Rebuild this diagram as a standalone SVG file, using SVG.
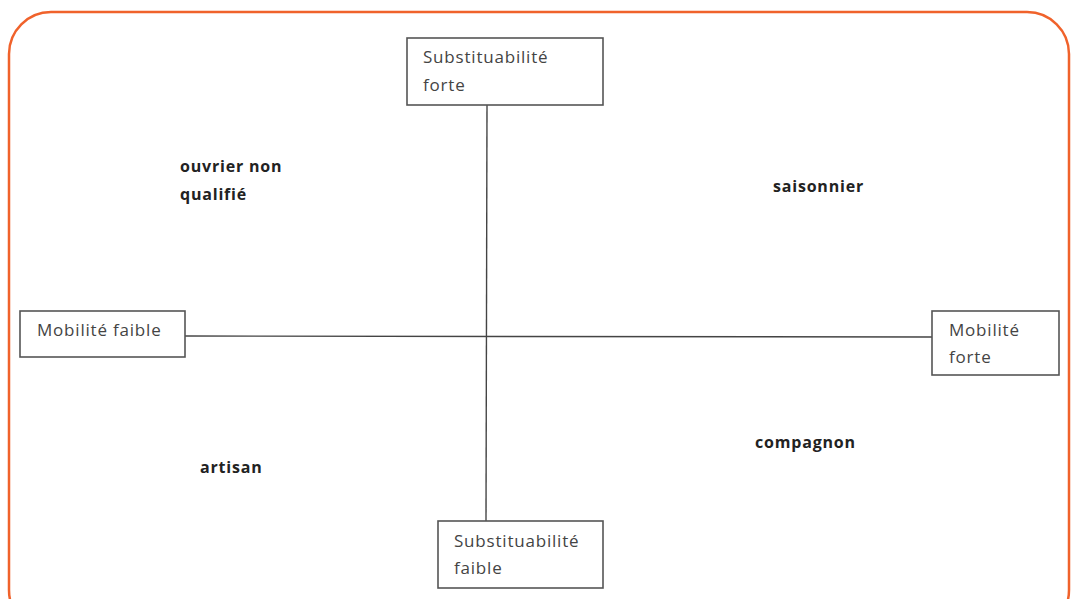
<svg xmlns="http://www.w3.org/2000/svg" width="1073" height="599" viewBox="0 0 1073 599">
<style>
.box{fill:#fff;stroke:#555;stroke-width:1.6}
.bt{font-family:"Open Sans","Liberation Sans",sans-serif;font-size:17px;letter-spacing:0.8px;fill:#444}
.lb{font-family:"Open Sans","Liberation Sans",sans-serif;font-size:16px;letter-spacing:0.8px;font-weight:bold;fill:#222}
.ax{stroke:#444;stroke-width:1.4;fill:none}
</style>
<rect x="0" y="0" width="1073" height="599" fill="#fff"/>
<rect x="9" y="12" width="1060" height="620" rx="42" ry="42" fill="none" stroke="#F0622B" stroke-width="2.5"/>
<g id="connectors">
<line class="ax" x1="487" y1="105" x2="486" y2="521"/>
<line class="ax" x1="185" y1="336" x2="932" y2="337"/>
</g>
<g id="top"><rect class="box" x="407" y="38" width="196" height="67"/><text class="bt" x="423" y="63">Substituabilité</text><text class="bt" x="423" y="91">forte</text></g>
<g id="left"><rect class="box" x="20" y="311" width="165" height="46"/><text class="bt" x="37" y="336">Mobilité faible</text></g>
<g id="right"><rect class="box" x="932" y="311" width="127" height="64"/><text class="bt" x="949" y="336">Mobilité</text><text class="bt" x="949" y="363">forte</text></g>
<g id="bottom"><rect class="box" x="438" y="521" width="165" height="67"/><text class="bt" x="454" y="547">Substituabilité</text><text class="bt" x="454" y="574">faible</text></g>
<g id="labels">
<text class="lb" x="180" y="172">ouvrier non</text>
<text class="lb" x="180" y="200">qualifié</text>
<text class="lb" x="773" y="192">saisonnier</text>
<text class="lb" x="755" y="448">compagnon</text>
<text class="lb" x="200" y="473">artisan</text>
</g>
</svg>
